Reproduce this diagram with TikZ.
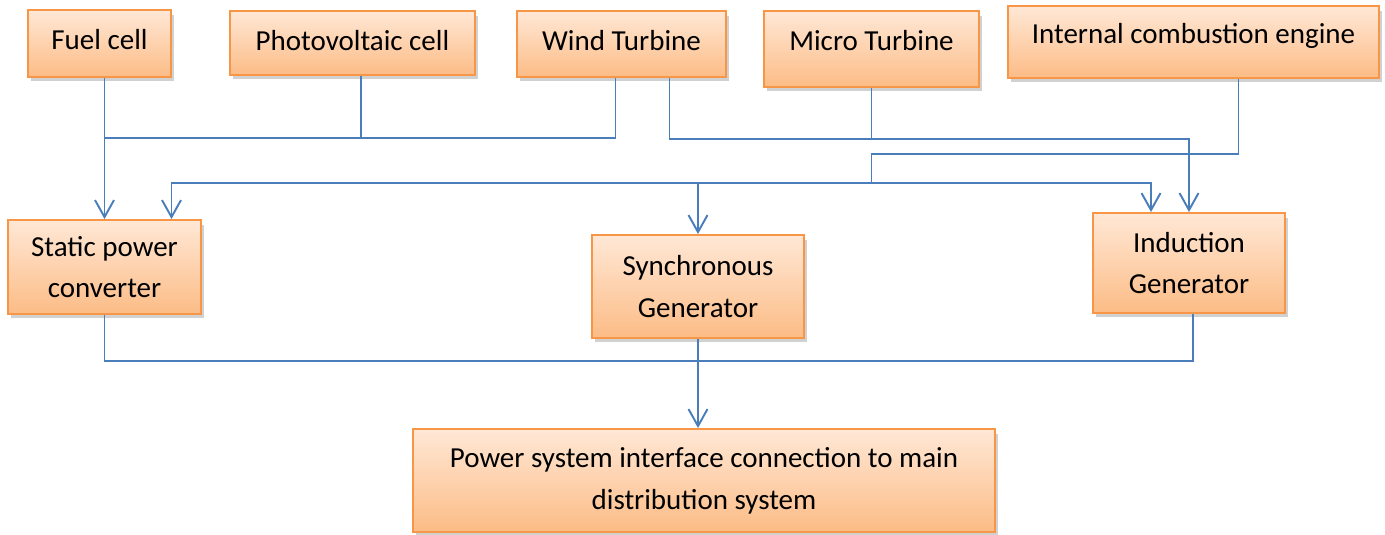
\documentclass[tikz,border=0pt]{standalone}
\usepackage{fontspec}
\setmainfont{Carlito}
\usetikzlibrary{arrows.meta,calc,shadows}

\definecolor{boxtop}{RGB}{255,232,214}
\definecolor{boxbot}{RGB}{252,188,134}
\definecolor{boxline}{RGB}{247,150,70}
\definecolor{wire}{RGB}{74,126,187}

\begin{document}
\begin{tikzpicture}[x=0.02cm, y=-0.02cm,
    block/.style={draw=boxline, line width=1.1pt, top color=boxtop, bottom color=boxbot,
        align=center, inner sep=2pt, font=\fontsize{16.5}{23.8}\selectfont,
        drop shadow={shadow xshift=0.6mm, shadow yshift=-0.9mm, opacity=0.3, fill=black!60}},
    lift/.style={text depth=#1},
    link/.style={draw=wire, line width=1.1pt},
    arr/.style={link, -{Straight Barb[length=0.34cm, width=0.38cm]}}]
    \useasboundingbox (0,0) rectangle (1385,534);

    % Sources
    \node[block, lift=4.6pt, minimum width=2.86cm, minimum height=1.34cm] (fuel) at (99.5,43.5) {Fuel cell};
    \node[block, lift=3.4pt, minimum width=4.9cm, minimum height=1.28cm] (pv) at (352.5,43) {Photovoltaic cell};
    \node[block, lift=4.5pt, minimum width=4.18cm, minimum height=1.32cm] (wind) at (621.5,44) {Wind Turbine};
    \node[block, lift=10.2pt, minimum width=4.3cm, minimum height=1.52cm] (micro) at (871.5,49) {Micro Turbine};
    \node[block, lift=9.2pt, minimum width=7.42cm, minimum height=1.44cm] (ice) at (1193.5,42) {Internal combustion engine};

    % Converters
    \node[block, minimum width=3.86cm, minimum height=1.88cm] (static) at (104.5,267) {Static power\\converter};
    \node[block, minimum width=4.24cm, minimum height=2.06cm] (sync) at (698,286.5) {Synchronous\\Generator};
    \node[block, minimum width=3.84cm, minimum height=2.0cm] (ind) at (1189,263) {Induction\\Generator};

    % Grid side
    \node[block, minimum width=11.64cm, minimum height=2.06cm] (iface) at (704,480.5)
        {Power system interface connection to main\\distribution system};

    % Bus lines
    \coordinate (bus1) at (0,138);
    \coordinate (bus2) at (0,139);
    \coordinate (tap) at (0,154);
    \coordinate (bus3) at (0,183);
    \coordinate (bus4) at (0,361);
    \coordinate (sIn) at ($(static.north)+(67,0)$);
    \coordinate (iIn) at ($(ind.north)+(-38,0)$);

    % Arrows
    \draw[arr] (static.north |- fuel.south) -- (static.north);
    \draw[link] ($(pv.south)+(8.5,0)$) -- ($(pv.south |- bus1)+(8.5,0)$);
    \draw[link] ($(wind.south)+(-6,0)$) |- (static.north |- bus1);
    \draw[arr] ($(wind.south)+(48,0)$) |- (ind.north |- bus2) -- (ind.north);
    \draw[link] (micro.south) -- (micro.south |- bus2);
    \draw[link] ($(ice.south)+(45,0)$) |- (micro.south |- tap) -- (micro.south |- bus3);
    \draw[link, {Straight Barb[length=0.34cm, width=0.38cm]}-{Straight Barb[length=0.34cm, width=0.38cm]}]
        (sIn) |- (iIn |- bus3) -- (iIn);
    \draw[arr] (sync.north |- bus3) -- (sync.north);
    \draw[link] (static.south) |- ($(ind.south |- bus4)+(4,0)$) -- ($(ind.south)+(4,0)$);
    \draw[arr] (sync.south) -- (sync.south |- iface.north);
\end{tikzpicture}
\end{document}
